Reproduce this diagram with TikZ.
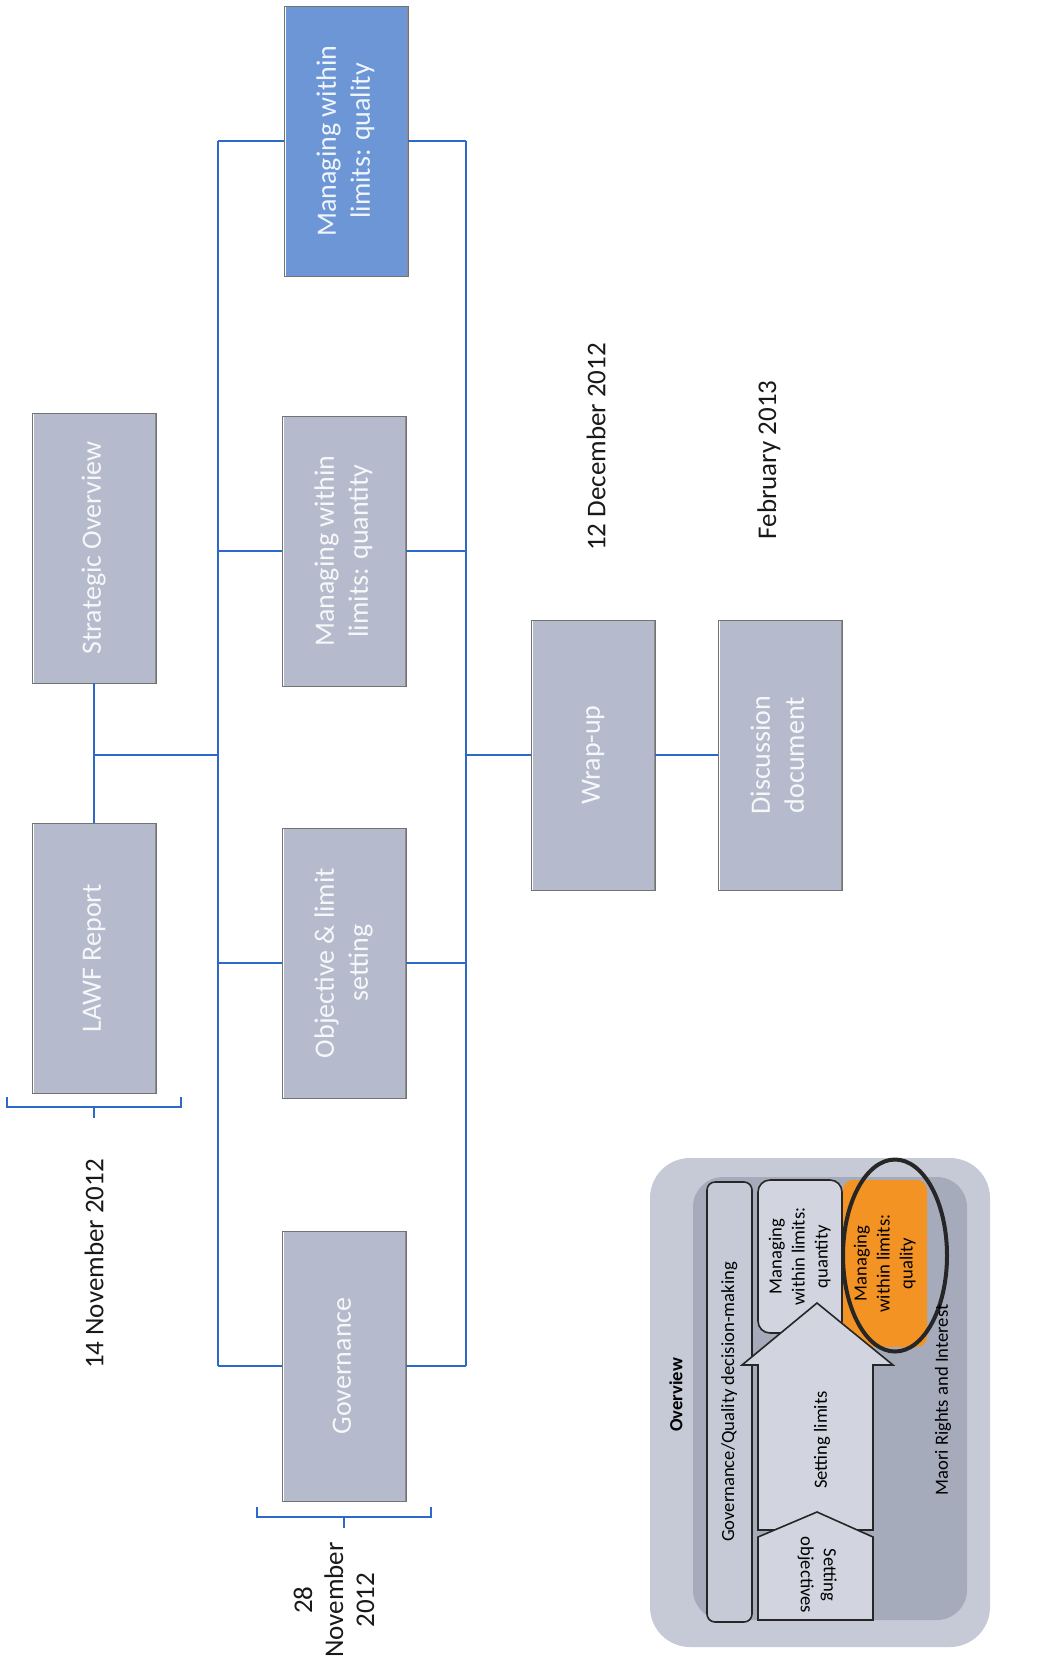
\documentclass[tikz,border=0pt]{standalone}
\usepackage{fontspec}
\setmainfont{Carlito}
\usepackage{graphicx}
\usepackage{xcolor}
\definecolor{slotgray}{RGB}{181,187,204}
\definecolor{slotblue}{RGB}{108,150,214}
\definecolor{busblue}{RGB}{45,105,200}
\definecolor{insetlight}{RGB}{198,202,215}
\definecolor{insetdark}{RGB}{166,171,187}
\definecolor{insetpale}{RGB}{210,213,223}
\definecolor{qualorange}{RGB}{243,147,35}
\newcommand{\vtext}[2]{\rotatebox{#1}{\begin{tabular}{@{}c@{}}#2\end{tabular}}}
\newcommand{\drawBracket}[3]{
\draw [bus] (#1-#3,#2-10) -- (#1-#3,#2) -- (#1+#3,#2) -- (#1+#3,#2-10);
\draw [bus] (#1,#2) -- (#1,#2+11);
}
\tikzset{
  slot/.style={draw=black!55,fill=slotgray,minimum width=62pt,minimum height=135pt,inner sep=0pt,
    text=white!88!slotgray,font=\fontsize{14}{17}\selectfont,
    path picture={\draw[white,line width=2pt] (path picture bounding box.north west) -- (path picture bounding box.south west);
      \draw[black!45,line width=1.2pt] (path picture bounding box.north east) -- (path picture bounding box.south east);}},
  bus/.style={busblue,line width=1pt},
  datelabel/.style={font=\fontsize{13.5}{15.5}\selectfont,text=black!90,inner sep=0pt},
  insetbox/.style={draw=black!85,line width=0.8pt,inner sep=0pt,font=\fontsize{9.3}{11.5}\selectfont},
  insettext/.style={inner sep=0pt,font=\fontsize{9.3}{11.5}\selectfont},
}

\begin{document}
\begin{tikzpicture}[x=0.5pt,y=-0.5pt]
\useasboundingbox (0,0) rectangle (1040,1669);
%
\node[slot] (strat) at (94,548) {\vtext{90}{Strategic Overview}};
\node[slot] (lawf) at (94,958) {\vtext{90}{LAWF Report}};
%
\node[slot,fill=slotblue,text=white!90!slotblue] (qual) at (346,141) {\vtext{90}{Managing within\\limits: quality}};
\node[slot] (quant) at (344,551) {\vtext{90}{Managing within\\limits: quantity}};
\node[slot] (obj) at (344,963) {\vtext{90}{Objective \& limit\\setting}};
\node[slot] (gov) at (344,1366) {\vtext{90}{Governance}};
%
\node[slot] (wrap) at (593,755) {\vtext{90}{Wrap-up}};
\node[slot] (disc) at (780,755) {\vtext{90}{Discussion\\document}};
%
\coordinate (lbus) at (218,755);
\coordinate (rbus) at (466,755);
\draw[bus] (strat.south) -- (lawf.north);
\draw[bus] (strat.south |- wrap.west) -- (lbus);
\draw[bus] (lbus |- qual.west) -- (lbus |- gov.west);
\draw[bus] (rbus |- qual.east) -- (rbus |- gov.east);
\foreach \b in {qual,quant,obj,gov} {\draw[bus] (lbus |- \b.west) -- (\b.west); \draw[bus] (\b.east) -- (rbus |- \b.east);}
\draw[bus] (rbus) -- (wrap.west);
\draw[bus] (wrap.east) -- (disc.west);
%
\drawBracket{94}{1107}{87}
\drawBracket{344}{1517}{87}
\node[datelabel] (nov14) at (94,1264) {\rotatebox{90}{14 November 2012}};
\node[datelabel] (nov28) at (337,1600) {\vtext{90}{28\\November\\2012}};
\node[datelabel] (dec12) at (596,447) {\rotatebox{90}{12 December 2012}};
\node[datelabel] (feb13) at (769,460) {\rotatebox{90}{February 2013}};
%
% overview inset
\fill[insetlight,rounded corners=20pt] (650,1158) rectangle (990,1647);
\fill[insetdark,rounded corners=15pt] (693,1177) rectangle (967,1620);
\node[insetbox,fill=insetlight,rounded corners=4pt,minimum width=22.5pt,minimum height=220pt] (govq) at (729.5,1402) {\vtext{90}{Governance/Quality decision-making}};
\node[insetbox,fill=insetpale,rounded corners=6pt,minimum width=42pt,minimum height=76.5pt] (iquant) at (800,1256.5) {\vtext{90}{Managing\\within limits:\\quantity}};
\node[insetbox,draw=none,fill=qualorange,rounded corners=5pt,minimum width=42pt,minimum height=83.5pt] (iqual) at (885,1263.5) {\vtext{90}{Managing\\within limits:\\quality}};
\draw[black!85,line width=2pt] (iqual.center) ++(10,-8) ellipse [x radius=52, y radius=96];
\draw[insetbox,fill=insetpale] (758,1530) -- (758,1365) -- (742,1365) -- (817,1303) -- (893,1365) -- (873,1365) -- (873,1530) -- cycle;
\draw[insetbox,fill=insetpale] (758,1620) -- (758,1537) -- (817,1512) -- (873,1537) -- (873,1620) -- cycle;
\node[insettext,font=\fontsize{9.3}{11.5}\selectfont\bfseries] (ovw) at (676,1395) {\rotatebox{90}{Overview}};
\node[insettext] (setlim) at (822,1440) {\rotatebox{90}{Setting limits}};
\node[insettext] (setobj) at (817,1575) {\vtext{-90}{Setting\\objectives}};
\node[insettext] (maori) at (943,1400) {\rotatebox{90}{Maori Rights and Interest}};
\end{tikzpicture}
\end{document}
